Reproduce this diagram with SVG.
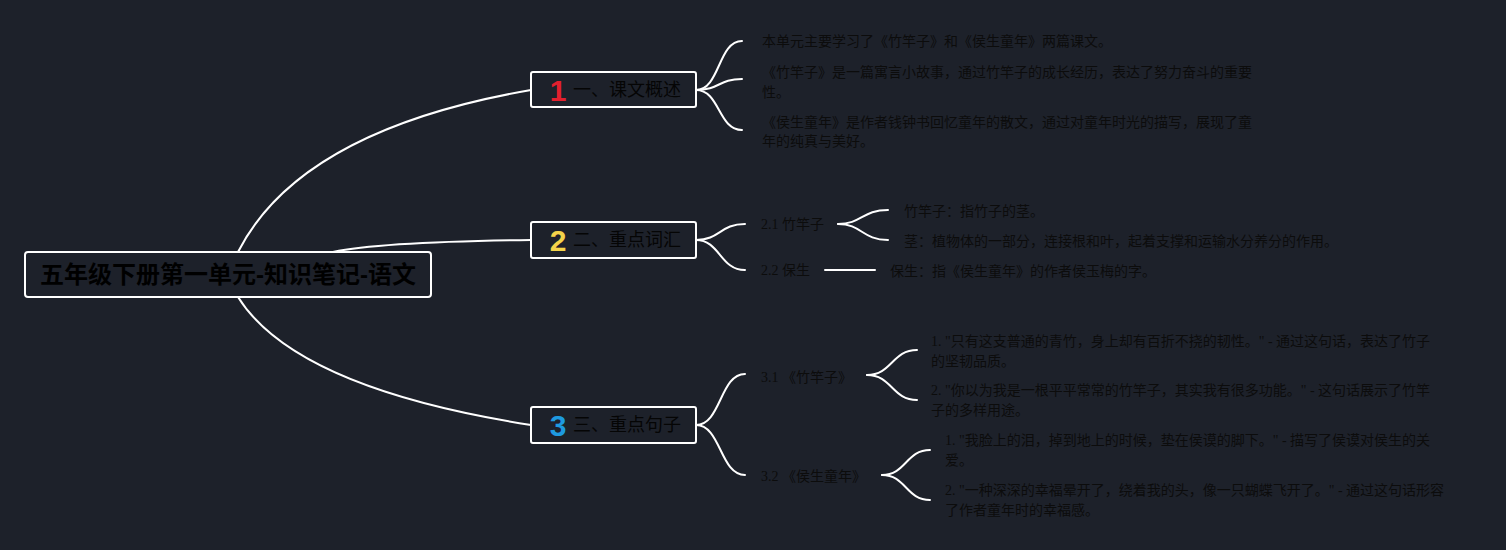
<svg xmlns="http://www.w3.org/2000/svg" width="1506" height="550" viewBox="0 0 1506 550">
<style>
.bg{fill:#1d212a}
.box{fill:#1d212a;stroke:#ffffff;stroke-width:2}
.ln{fill:none;stroke:#ffffff;stroke-width:2;stroke-linecap:round}
.root{font-family:"Liberation Sans","Noto Sans CJK SC",sans-serif;font-size:24px;font-weight:bold;fill:#000000}
.mt{font-family:"Liberation Sans","Noto Sans CJK SC",sans-serif;font-size:18px;fill:#050505}
.num{font-family:"Liberation Sans","DejaVu Sans",sans-serif;font-size:30px;font-weight:bold}
.t{font-family:"Liberation Serif","Noto Sans CJK SC",serif;font-size:14px;fill:#0c0c0c}
</style>
<rect class="bg" x="0" y="0" width="1506" height="550"/>
<g id="connectors">
<path class="ln" d="M238,252 Q300,130 531,90"/>
<path class="ln" d="M333,252 Q380,242 531,240"/>
<path class="ln" d="M238,297 Q295,388 531,425"/>
<path class="ln" d="M696,90 C720,90 718,41 742,41"/>
<path class="ln" d="M696,90 C720,90 718,79 742,79"/>
<path class="ln" d="M696,90 C720,90 718,130 742,130"/>
<path class="ln" d="M696,240 C720,240 720,224 745,224"/>
<path class="ln" d="M696,240 C720,240 720,270 745,270"/>
<path class="ln" d="M838,224 C862,224 862,210 888,210"/>
<path class="ln" d="M838,224 C862,224 862,240 888,240"/>
<path class="ln" d="M825,270 L875,270"/>
<path class="ln" d="M696,425 C721,425 720,374 745,374"/>
<path class="ln" d="M696,425 C721,425 720,475 745,475"/>
<path class="ln" d="M867,375 C892,375 892,350 917,350"/>
<path class="ln" d="M867,375 C892,375 892,400 917,400"/>
<path class="ln" d="M882,475 C906,475 906,450 930,450"/>
<path class="ln" d="M882,475 C906,475 906,500 930,500"/>
</g>
<g id="root">
<rect class="box" x="25" y="252" width="406" height="45" rx="3"/>
<text class="root" x="228" y="283" text-anchor="middle">五年级下册第一单元-知识笔记-语文</text>
</g>
<g id="n1">
<rect class="box" x="531" y="72" width="165" height="35" rx="2"/>
<text class="num" x="558" y="101" text-anchor="middle" fill="#e2202e">1</text>
<text class="mt" x="573" y="96">一、课文概述</text>
</g>
<g id="n1-1"><text class="t" x="762" y="46">本单元主要学习了《竹竿子》和《侯生童年》两篇课文。</text></g>
<g id="n1-2"><text class="t" x="762" y="77">《竹竿子》是一篇寓言小故事，通过竹竿子的成长经历，表达了努力奋斗的重要</text><text class="t" x="762" y="97">性。</text></g>
<g id="n1-3"><text class="t" x="762" y="127">《侯生童年》是作者钱钟书回忆童年的散文，通过对童年时光的描写，展现了童</text><text class="t" x="762" y="146">年的纯真与美好。</text></g>
<g id="n2">
<rect class="box" x="531" y="222" width="165" height="36" rx="2"/>
<text class="num" x="558" y="251" text-anchor="middle" fill="#f3d34a">2</text>
<text class="mt" x="573" y="246">二、重点词汇</text>
</g>
<g id="n2-1"><text class="t" x="761" y="229">2.1 竹竿子</text></g>
<g id="n2-1-1"><text class="t" x="904" y="216">竹竿子：指竹子的茎。</text></g>
<g id="n2-1-2"><text class="t" x="904" y="246">茎：植物体的一部分，连接根和叶，起着支撑和运输水分养分的作用。</text></g>
<g id="n2-2"><text class="t" x="761" y="275">2.2 保生</text></g>
<g id="n2-2-1"><text class="t" x="890" y="276">保生：指《侯生童年》的作者侯玉梅的字。</text></g>
<g id="n3">
<rect class="box" x="531" y="407" width="165" height="36" rx="2"/>
<text class="num" x="558" y="436" text-anchor="middle" fill="#1e9ae0">3</text>
<text class="mt" x="573" y="431">三、重点句子</text>
</g>
<g id="n3-1"><text class="t" x="761" y="382">3.1 《竹竿子》</text></g>
<g id="n3-1-1"><text class="t" x="931" y="346">1. "只有这支普通的青竹，身上却有百折不挠的韧性。" - 通过这句话，表达了竹子</text><text class="t" x="931" y="366">的坚韧品质。</text></g>
<g id="n3-1-2"><text class="t" x="931" y="395">2. "你以为我是一根平平常常的竹竿子，其实我有很多功能。" - 这句话展示了竹竿</text><text class="t" x="931" y="415">子的多样用途。</text></g>
<g id="n3-2"><text class="t" x="761" y="481">3.2 《侯生童年》</text></g>
<g id="n3-2-1"><text class="t" x="945" y="445">1. "我脸上的泪，掉到地上的时候，垫在侯谟的脚下。" - 描写了侯谟对侯生的关</text><text class="t" x="945" y="465">爱。</text></g>
<g id="n3-2-2"><text class="t" x="945" y="495">2. "一种深深的幸福晕开了，绕着我的头，像一只蝴蝶飞开了。" - 通过这句话形容</text><text class="t" x="945" y="515">了作者童年时的幸福感。</text></g>
</svg>
